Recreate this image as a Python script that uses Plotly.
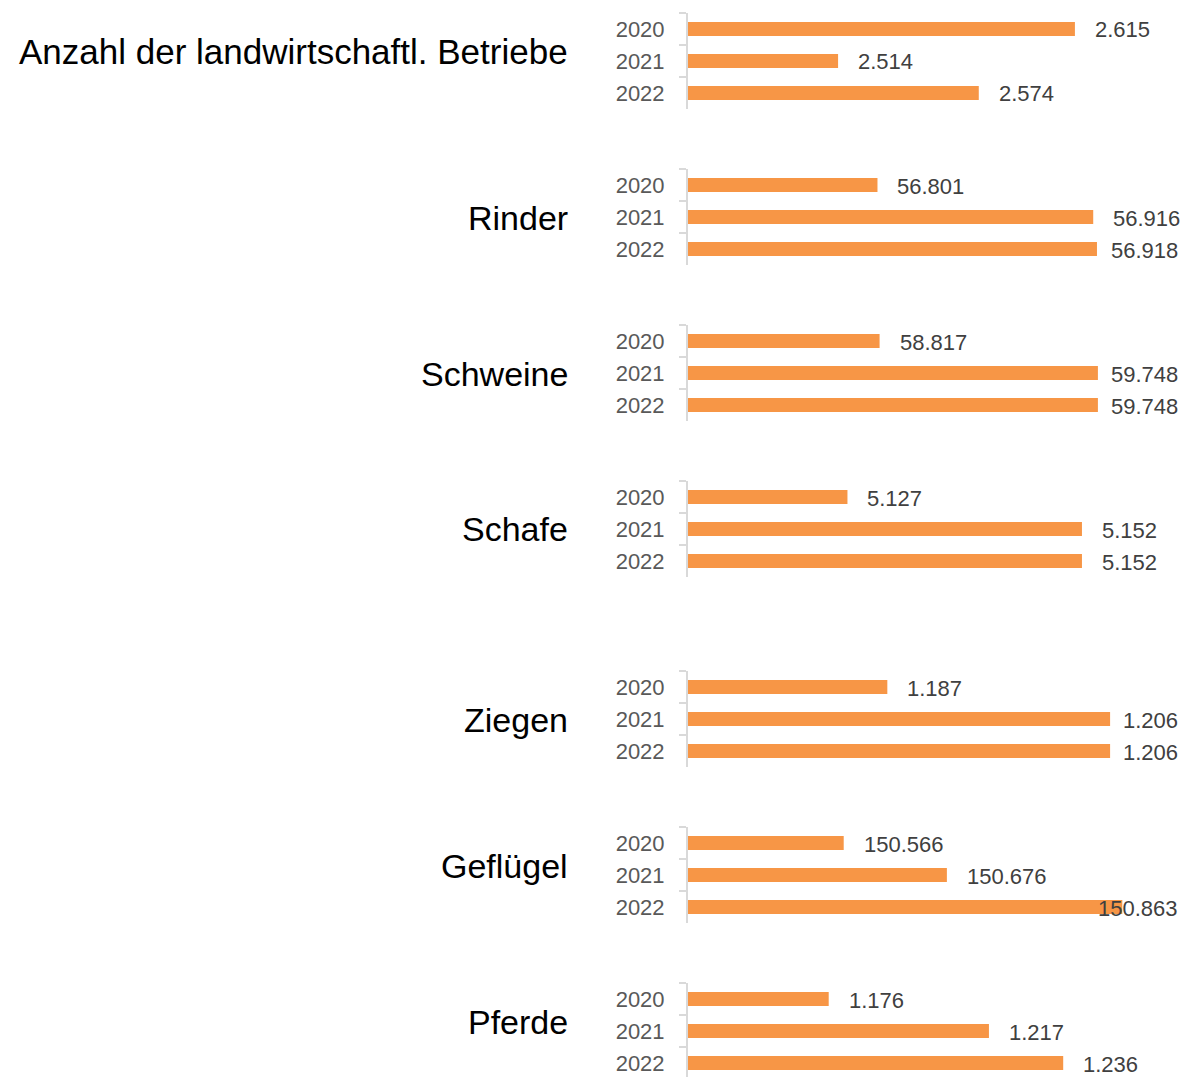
import plotly.graph_objects as go

# ---- data ----
categories = ["Anzahl der landwirtschaftl. Betriebe", "Rinder", "Schweine", "Schafe",
              "Ziegen", "Geflügel", "Pferde"]
years = ["2020", "2021", "2022"]
values = [
    [2615, 2514, 2574],
    [56801, 56916, 56918],
    [58817, 59748, 59748],
    [5127, 5152, 5152],
    [1187, 1206, 1206],
    [150566, 150676, 150863],
    [1176, 1217, 1236],
]
axis_ranges = [
    [2450, 2650],
    [56700, 56950],
    [58000, 60000],
    [5110, 5160],
    [1170, 1210],
    [150400, 150900],
    [1140, 1260],
]

# ---- layout (pixels) ----
W, H = 1181, 1077
X0, X1 = 688, 1157              # plot area horizontal extent
panel_tops = [13, 169, 325, 481, 671, 827, 983]
panel_h = 96
label_right = 570
label_yshift = [9, -1, -1, 0, -1, 9, 9]
label_sizes = [35, 34, 34, 34, 34, 34, 34]
text_right_limit = 1180

BAR = "#F79646"
AXIS = "#D9D9D9"
FONT = "Liberation Sans"

def fmt(v):
    return f"{v:,}".replace(",", ".")

def est_width(s, size=22):
    return sum(0.278 if c == "." else 0.556 for c in s) * size

fig = go.Figure()
annotations = []
layout = {}
for i, (cat, vals, rng, top) in enumerate(zip(categories, values, axis_ranges, panel_tops)):
    n = i + 1
    xa = "x" if n == 1 else f"x{n}"
    ya = "y" if n == 1 else f"y{n}"
    bottom = min(top + panel_h, H)
    ydom = [1 - bottom / H, 1 - top / H]
    xdom = [X0 / W, X1 / W]
    fig.add_trace(go.Bar(
        x=vals, y=years, orientation="h", xaxis=xa, yaxis=ya,
        marker=dict(color=BAR, line=dict(width=0)), width=0.43,
        showlegend=False, hoverinfo="x+y",
    ))
    ykey = "yaxis" if n == 1 else f"yaxis{n}"
    xkey = "xaxis" if n == 1 else f"xaxis{n}"
    layout[xkey] = dict(domain=xdom, range=rng, visible=False, anchor=ya,
                        showgrid=False, zeroline=False, fixedrange=True)
    layout[ykey] = dict(domain=ydom, anchor=xa, type="category",
                        categoryorder="array", categoryarray=years,
                        range=[-0.5 + (bottom - top) / 32.0, -0.5],
                        showline=True, linecolor=AXIS, linewidth=2,
                        ticks="outside", tickson="boundaries", ticklen=7,
                        tickcolor=AXIS, tickwidth=2, ticklabelstandoff=17,
                        tickfont=dict(family=FONT, size=22, color="#595959"),
                        showgrid=False, zeroline=False, fixedrange=True)
    # value labels (y given as category index)
    for k, v in enumerate(vals):
        txt = fmt(v)
        frac = (v - rng[0]) / (rng[1] - rng[0])
        end_px = X0 + frac * (X1 - X0)
        if end_px + 18 + est_width(txt) > text_right_limit:
            annotations.append(dict(xref="paper", yref=ya, x=text_right_limit / W, y=k,
                                    yshift=-1, xanchor="right", yanchor="middle",
                                    showarrow=False, text=txt,
                                    font=dict(family=FONT, size=22, color="#404040")))
        else:
            annotations.append(dict(xref=xa, yref=ya, x=v, y=k, xshift=18, yshift=-1,
                                    xanchor="left", yanchor="middle", showarrow=False,
                                    text=txt, font=dict(family=FONT, size=22, color="#404040")))
    # category label, centred on the middle year
    annotations.append(dict(xref="paper", yref=ya, x=label_right / W, y=1,
                            yshift=label_yshift[i], xanchor="right", yanchor="middle",
                            showarrow=False, text=cat,
                            font=dict(family=FONT, size=label_sizes[i], color="#000000")))

fig.update_layout(
    width=W, height=H, margin=dict(l=0, r=0, t=0, b=0),
    paper_bgcolor="white", plot_bgcolor="white",
    annotations=annotations, **layout,
)
fig.write_html("out.html", config={"displayModeBar": False})
